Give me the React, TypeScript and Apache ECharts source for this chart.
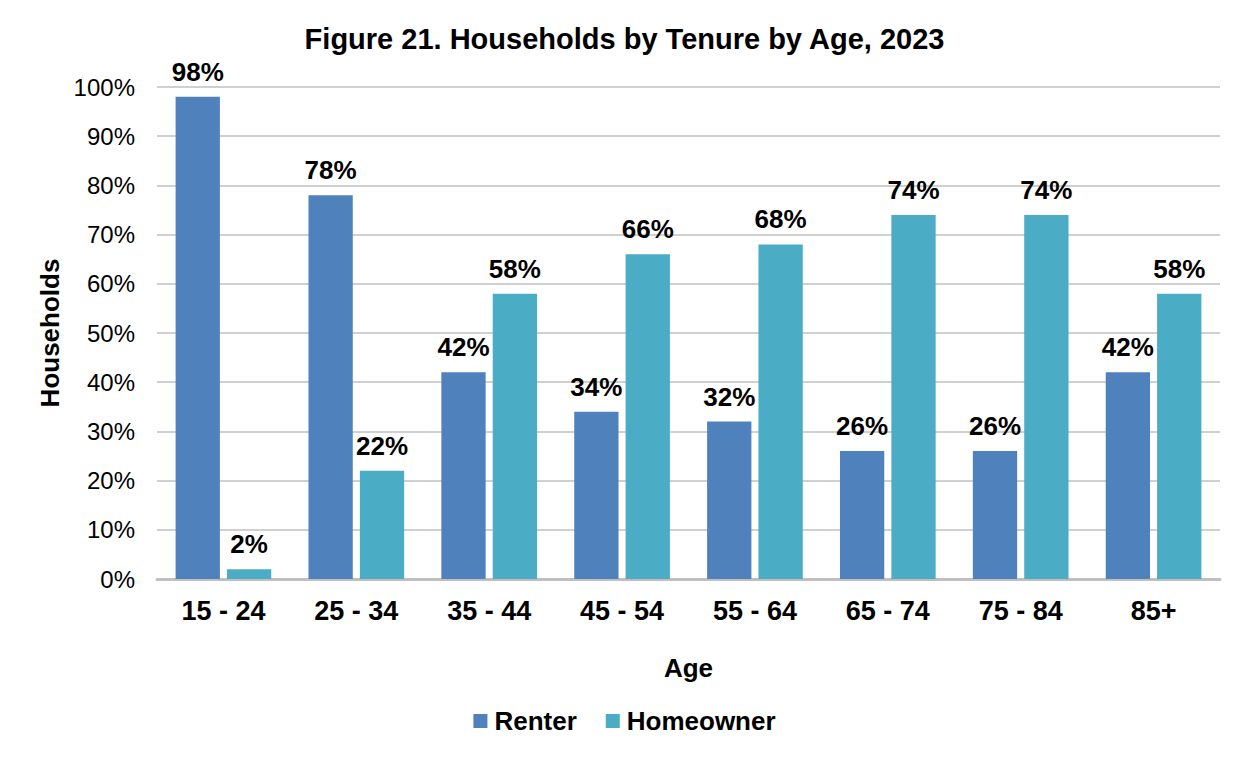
import React, { useEffect, useRef } from "react";
import * as echarts from "echarts";

const categories = ["15 - 24", "25 - 34", "35 - 44", "45 - 54", "55 - 64", "65 - 74", "75 - 84", "85+"];
const renter = [98, 78, 42, 34, 32, 26, 26, 42];
const homeowner = [2, 22, 58, 66, 68, 74, 74, 58];
const seriesNames = ["Renter", "Homeowner"];
const titleText = "Figure 21. Households by Tenure by Age, 2023";

const FONT = "Liberation Sans, Arial, sans-serif";

export default function App() {
  const ref = useRef<HTMLDivElement>(null);
  useEffect(() => {
    document.body.style.margin = "0";
    const chart = echarts.init(ref.current!, null, { renderer: "svg" });
    const labelStyle = {
      show: true,
      position: "top" as const,
      distance: 12,
      formatter: "{c}%",
      fontFamily: FONT,
      fontWeight: "bold" as const,
      fontSize: 26,
      color: "#000",
    };
    chart.setOption({
      animation: false,
      backgroundColor: "#fff",
      textStyle: { fontFamily: FONT },
      title: {
        text: titleText,
        left: "center",
        top: 19,
        textStyle: { fontFamily: FONT, fontWeight: "bold", fontSize: 29, color: "#000" },
      },
      grid: { left: 157, right: 29, top: 87, bottom: 180, containLabel: false },
      legend: {
        top: 703,
        left: "center",
        itemWidth: 14,
        itemHeight: 14,
        itemGap: 29,
        icon: "rect",
        textStyle: { fontFamily: FONT, fontWeight: "bold", fontSize: 26, color: "#000", padding: [0, 0, 0, 2] },
        data: seriesNames,
      },
      xAxis: {
        type: "category",
        data: categories,
        name: "Age",
        nameLocation: "middle",
        nameGap: 76,
        nameTextStyle: { fontFamily: FONT, fontWeight: "bold", fontSize: 26, color: "#000" },
        axisLine: { lineStyle: { color: "#bfbfbf", width: 3 } },
        axisTick: { show: false },
        axisLabel: { margin: 18, fontFamily: FONT, fontWeight: "bold", fontSize: 27, color: "#000" },
      },
      yAxis: {
        type: "value",
        min: 0,
        max: 100,
        interval: 10,
        name: "Households",
        nameLocation: "middle",
        nameGap: 92,
        nameTextStyle: { fontFamily: FONT, fontWeight: "bold", fontSize: 26, color: "#000" },
        axisLine: { show: false },
        axisTick: { show: false },
        axisLabel: { formatter: "{value}%", margin: 22, fontFamily: FONT, fontSize: 24, color: "#000" },
        splitLine: { lineStyle: { color: "#c0c0c0", width: 1.5 } },
      },
      series: [
        {
          name: seriesNames[0],
          type: "bar",
          data: renter,
          itemStyle: { color: "#4F81BD" },
          barGap: "16%",
          barCategoryGap: "28%",
          label: labelStyle,
        },
        {
          name: seriesNames[1],
          type: "bar",
          data: homeowner,
          itemStyle: { color: "#4BACC6" },
          barGap: "16%",
          barCategoryGap: "28%",
          label: labelStyle,
        },
      ],
    });
    return () => chart.dispose();
  }, []);
  return (
    <div
      style={{
        position: "relative",
        width: 1249,
        height: 759,
        boxSizing: "border-box",
        borderLeft: "2px solid #000",
        borderTop: "2px solid #000",
        borderRight: "2px solid #000",
        background: "#fff",
      }}
    >
      <div ref={ref} style={{ position: "absolute", left: -2, top: -2, width: 1249, height: 759 }} />
    </div>
  );
}
